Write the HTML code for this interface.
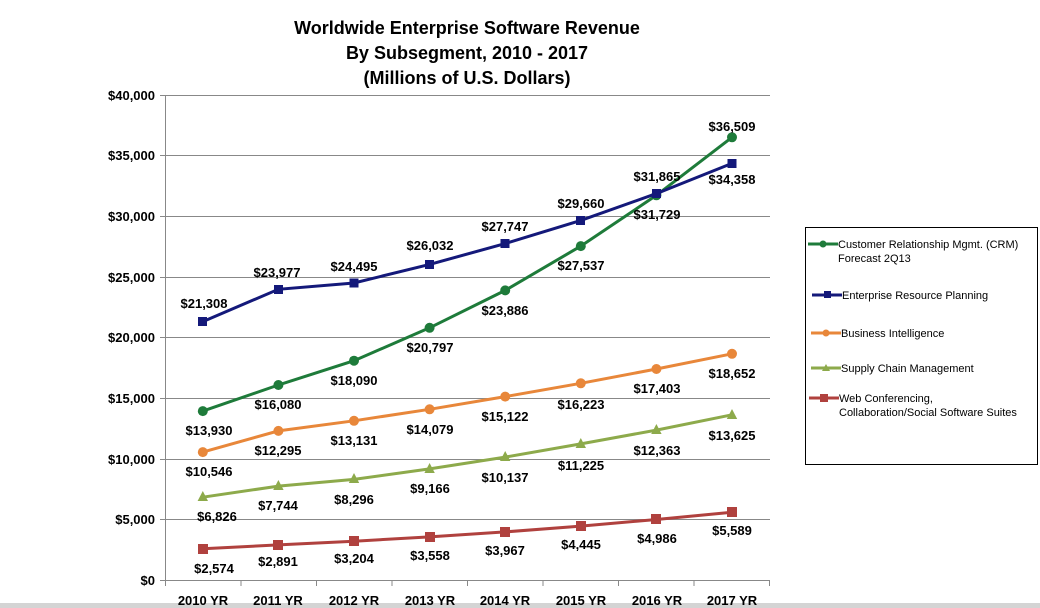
<!DOCTYPE html>
<html><head><style>body{margin:0;background:#fff}svg{display:block}</style></head><body>
<svg width="1040" height="608" xmlns="http://www.w3.org/2000/svg" font-family="Liberation Sans, Arial, sans-serif">
<rect width="1040" height="608" fill="#fff"/>
<rect x="0" y="603" width="1040" height="5" fill="#d4d4d4"/>
<g font-weight="bold" font-size="18" text-anchor="middle" fill="#000">
<text x="467" y="34">Worldwide Enterprise Software Revenue</text>
<text x="467" y="59">By Subsegment, 2010 - 2017</text>
<text x="467" y="84">(Millions of U.S. Dollars)</text>
</g>
<g stroke="#888" stroke-width="1">
<line x1="160" y1="95.5" x2="770" y2="95.5"/>
<line x1="160" y1="155.5" x2="770" y2="155.5"/>
<line x1="160" y1="216.5" x2="770" y2="216.5"/>
<line x1="160" y1="277.5" x2="770" y2="277.5"/>
<line x1="160" y1="337.5" x2="770" y2="337.5"/>
<line x1="160" y1="398.5" x2="770" y2="398.5"/>
<line x1="160" y1="459.5" x2="770" y2="459.5"/>
<line x1="160" y1="519.5" x2="770" y2="519.5"/>
<line x1="160" y1="580.5" x2="770" y2="580.5"/>
<line x1="165.5" y1="95" x2="165.5" y2="580"/>
<line x1="165.5" y1="580" x2="165.5" y2="586"/><line x1="241" y1="580" x2="241" y2="586"/><line x1="316.5" y1="580" x2="316.5" y2="586"/><line x1="392" y1="580" x2="392" y2="586"/><line x1="467.5" y1="580" x2="467.5" y2="586"/><line x1="543" y1="580" x2="543" y2="586"/><line x1="618.5" y1="580" x2="618.5" y2="586"/><line x1="694" y1="580" x2="694" y2="586"/><line x1="769.5" y1="580" x2="769.5" y2="586"/>
</g>
<g font-weight="bold" font-size="13" text-anchor="end" fill="#000">
<text x="155" y="100">$40,000</text><text x="155" y="160">$35,000</text><text x="155" y="221">$30,000</text><text x="155" y="282">$25,000</text><text x="155" y="342">$20,000</text><text x="155" y="403">$15,000</text><text x="155" y="464">$10,000</text><text x="155" y="524">$5,000</text><text x="155" y="585">$0</text>
</g>
<g font-weight="bold" font-size="13" text-anchor="middle" fill="#000">
<text x="203" y="605">2010 YR</text><text x="278" y="605">2011 YR</text><text x="354" y="605">2012 YR</text><text x="430" y="605">2013 YR</text><text x="505" y="605">2014 YR</text><text x="581" y="605">2015 YR</text><text x="657" y="605">2016 YR</text><text x="732" y="605">2017 YR</text>
</g>
<!-- Web -->
<polyline fill="none" stroke="#b0413e" stroke-width="3" points="202.8,548.8 278.4,544.9 354,541.2 429.6,536.9 505.2,531.9 580.8,526.1 656.4,519.5 732,512.2"/>
<g fill="#b0413e"><rect x="198" y="544" width="10" height="10"/><rect x="273" y="540" width="10" height="10"/><rect x="349" y="536" width="10" height="10"/><rect x="425" y="532" width="10" height="10"/><rect x="500" y="527" width="10" height="10"/><rect x="576" y="521" width="10" height="10"/><rect x="651" y="514" width="10" height="10"/><rect x="727" y="507" width="10" height="10"/></g>
<!-- SCM -->
<polyline fill="none" stroke="#8daa4b" stroke-width="3" points="202.8,497.2 278.4,486.1 354,479.4 429.6,468.9 505.2,457.1 580.8,443.9 656.4,430.1 732,414.8"/>
<g fill="#8daa4b"><polygon points="202.8,491 208,501 197.6,501"/><polygon points="278.4,480 283.6,490 273.2,490"/><polygon points="354,473 359.2,483 348.8,483"/><polygon points="429.6,463 434.8,473 424.4,473"/><polygon points="505.2,451 510.4,461 500,461"/><polygon points="580.8,438 586,448 575.6,448"/><polygon points="656.4,424 661.6,434 651.2,434"/><polygon points="732,409 737.2,419 726.8,419"/></g>
<!-- BI -->
<polyline fill="none" stroke="#e8873a" stroke-width="3" points="202.8,452.1 278.4,430.9 354,420.8 429.6,409.3 505.2,396.6 580.8,383.3 656.4,369 732,353.8"/>
<g fill="#e8873a"><circle cx="202.8" cy="452.1" r="5"/><circle cx="278.4" cy="430.9" r="5"/><circle cx="354" cy="420.8" r="5"/><circle cx="429.6" cy="409.3" r="5"/><circle cx="505.2" cy="396.6" r="5"/><circle cx="580.8" cy="383.3" r="5"/><circle cx="656.4" cy="369" r="5"/><circle cx="732" cy="353.8" r="5"/></g>
<!-- CRM -->
<polyline fill="none" stroke="#1e7b3a" stroke-width="3" points="202.8,411.1 278.4,385 354,360.7 429.6,327.8 505.2,290.4 580.8,246.1 656.4,195.3 732,137.3"/>
<g fill="#1e7b3a"><circle cx="202.8" cy="411.1" r="5"/><circle cx="278.4" cy="385" r="5"/><circle cx="354" cy="360.7" r="5"/><circle cx="429.6" cy="327.8" r="5"/><circle cx="505.2" cy="290.4" r="5"/><circle cx="580.8" cy="246.1" r="5"/><circle cx="656.4" cy="195.3" r="5"/><circle cx="732" cy="137.3" r="5"/></g>
<!-- ERP -->
<polyline fill="none" stroke="#14197a" stroke-width="3" points="202.8,321.6 278.4,289.3 354,283 429.6,264.4 505.2,243.6 580.8,220.4 656.4,193.6 732,163.4"/>
<g fill="#14197a"><rect x="198" y="317" width="9" height="9"/><rect x="274" y="285" width="9" height="9"/><rect x="349.5" y="278.5" width="9" height="9"/><rect x="425" y="260" width="9" height="9"/><rect x="500.5" y="239" width="9" height="9"/><rect x="576" y="216" width="9" height="9"/><rect x="652" y="189" width="9" height="9"/><rect x="727.5" y="159" width="9" height="9"/></g>
<g font-weight="bold" font-size="13" text-anchor="middle" fill="#000">
<text x="209" y="435">$13,930</text><text x="278" y="409">$16,080</text><text x="354" y="385">$18,090</text><text x="430" y="352">$20,797</text><text x="505" y="315">$23,886</text><text x="581" y="270">$27,537</text><text x="657" y="219">$31,729</text><text x="732" y="131">$36,509</text>
<text x="204" y="308">$21,308</text><text x="277" y="277">$23,977</text><text x="354" y="271">$24,495</text><text x="430" y="250">$26,032</text><text x="505" y="231">$27,747</text><text x="581" y="208">$29,660</text><text x="657" y="181">$31,865</text><text x="732" y="184">$34,358</text>
<text x="209" y="476">$10,546</text><text x="278" y="455">$12,295</text><text x="354" y="445">$13,131</text><text x="430" y="434">$14,079</text><text x="505" y="421">$15,122</text><text x="581" y="409">$16,223</text><text x="657" y="393">$17,403</text><text x="732" y="378">$18,652</text>
<text x="217" y="521">$6,826</text><text x="278" y="510">$7,744</text><text x="354" y="504">$8,296</text><text x="430" y="493">$9,166</text><text x="505" y="482">$10,137</text><text x="581" y="470">$11,225</text><text x="657" y="455">$12,363</text><text x="732" y="440">$13,625</text>
<text x="214" y="573">$2,574</text><text x="278" y="566">$2,891</text><text x="354" y="563">$3,204</text><text x="430" y="560">$3,558</text><text x="505" y="555">$3,967</text><text x="581" y="549">$4,445</text><text x="657" y="543">$4,986</text><text x="732" y="535">$5,589</text>
</g>
<!-- legend -->
<rect x="805.5" y="227.5" width="232" height="237" fill="#fff" stroke="#000"/>
<g font-size="11" fill="#000">
<line x1="808" y1="244" x2="838" y2="244" stroke="#1e7b3a" stroke-width="3"/><circle cx="823" cy="244" r="3.5" fill="#1e7b3a"/>
<text x="838" y="248">Customer Relationship Mgmt. (CRM)</text><text x="838" y="262">Forecast  2Q13</text>
<line x1="812" y1="295" x2="842" y2="295" stroke="#14197a" stroke-width="3"/><rect x="824" y="291" width="7" height="7" fill="#14197a"/>
<text x="842" y="299">Enterprise Resource Planning</text>
<line x1="811" y1="333" x2="841" y2="333" stroke="#e8873a" stroke-width="3"/><circle cx="826" cy="333" r="3.5" fill="#e8873a"/>
<text x="841" y="337">Business Intelligence</text>
<line x1="811" y1="368" x2="841" y2="368" stroke="#8daa4b" stroke-width="3"/><polygon points="826,364 830,371 822,371" fill="#8daa4b"/>
<text x="841" y="372">Supply Chain Management</text>
<line x1="809" y1="398" x2="839" y2="398" stroke="#b0413e" stroke-width="3"/><rect x="820" y="394" width="8" height="8" fill="#b0413e"/>
<text x="839" y="402">Web Conferencing,</text><text x="839" y="416">Collaboration/Social Software Suites</text>
</g>
</svg>
</body></html>
